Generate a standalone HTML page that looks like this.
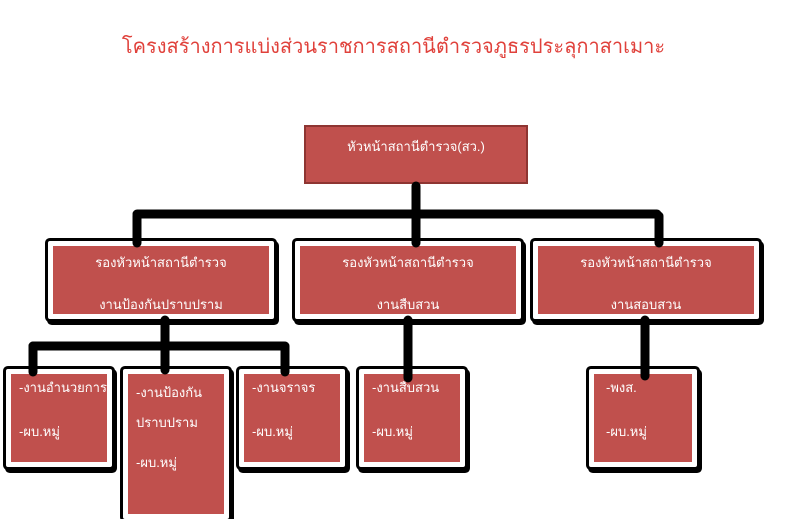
<!DOCTYPE html>
<html><head><meta charset="utf-8"><style>
body{margin:0;width:787px;height:513px;background:#fff;position:relative;overflow:hidden;font-family:"Liberation Sans","DejaVu Sans",sans-serif;}
.b{position:absolute;box-sizing:border-box;background:#c0504d;border:5px solid #fff;box-shadow:0 0 0 3px #000,2px 3px 0 3px #000;border-radius:2px;color:#fff;font-size:13px;line-height:16px;overflow:hidden;}
.b div{height:16px;white-space:nowrap;}
.t{position:absolute;white-space:nowrap;}
</style></head><body>
<div class="t" style="left:0;width:787px;top:34px;text-align:center;color:#e0413b;font-size:20px;line-height:26px;">โครงสร้างการแบ่งส่วนราชการสถานีตำรวจภูธรประลุกาสาเมาะ</div>
<div style="position:absolute;left:304px;top:125px;width:224px;height:59px;box-sizing:border-box;background:#c0504d;border:2px solid #8e3532;color:#fff;font-size:13px;line-height:16px;text-align:center;padding-top:12px;">หัวหน้าสถานีตำรวจ(สว.)</div>

<div class="b" style="left:48px;top:241px;width:226px;height:78px;text-align:center;"><div style="margin-top:9px">รองหัวหน้าสถานีตำรวจ</div><div style="margin-top:26px">งานป้องกันปราบปราม</div></div>
<div class="b" style="left:295px;top:241px;width:226px;height:78px;text-align:center;"><div style="margin-top:9px">รองหัวหน้าสถานีตำรวจ</div><div style="margin-top:26px">งานสืบสวน</div></div>
<div class="b" style="left:533px;top:241px;width:226px;height:78px;text-align:center;"><div style="margin-top:9px">รองหัวหน้าสถานีตำรวจ</div><div style="margin-top:26px">งานสอบสวน</div></div>

<div class="b" style="left:6px;top:369px;width:106px;height:98px;padding:6px 0 0 8px;"><div>-งานอำนวยการ</div><div style="margin-top:28px">-ผบ.หมู่</div></div>
<div class="b" style="left:123px;top:369px;width:106px;height:150px;padding:11px 0 0 8px;"><div>-งานป้องกัน</div><div style="margin-top:14px">ปราบปราม</div><div style="margin-top:24px">-ผบ.หมู่</div></div>
<div class="b" style="left:239px;top:369px;width:106px;height:98px;padding:6px 0 0 8px;"><div>-งานจราจร</div><div style="margin-top:28px">-ผบ.หมู่</div></div>
<div class="b" style="left:359px;top:369px;width:106px;height:98px;padding:6px 0 0 8px;"><div>-งานสืบสวน</div><div style="margin-top:28px">-ผบ.หมู่</div></div>
<div class="b" style="left:589px;top:369px;width:108px;height:98px;padding:6px 0 0 12px;"><div>-พงส.</div><div style="margin-top:28px">-ผบ.หมู่</div></div>

<svg width="787" height="513" style="position:absolute;left:0;top:0" fill="none" stroke="#000" stroke-width="9" stroke-linecap="round">
<line x1="137" y1="214" x2="657" y2="214"/>
<line x1="416" y1="186" x2="416" y2="243"/>
<line x1="137" y1="216" x2="137" y2="243"/>
<line x1="659" y1="216" x2="659" y2="243"/>
<line x1="33" y1="346" x2="284" y2="346"/>
<line x1="165" y1="320" x2="165" y2="370"/>
<line x1="33" y1="346" x2="33" y2="372"/>
<line x1="285" y1="346" x2="285" y2="372"/>
<line x1="408" y1="320" x2="408" y2="378"/>
<line x1="645" y1="320" x2="645" y2="376"/>
</svg>
</body></html>
